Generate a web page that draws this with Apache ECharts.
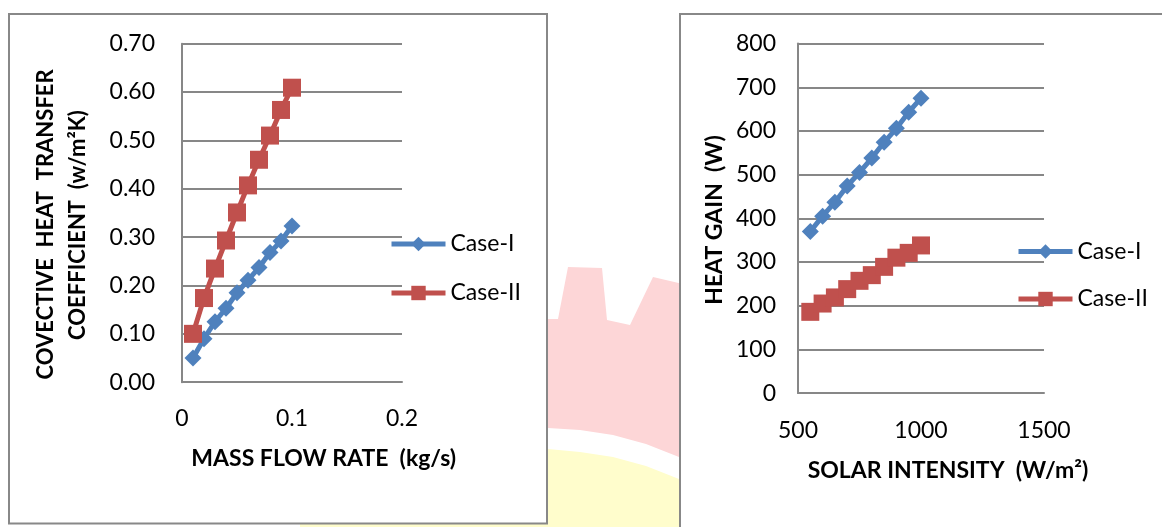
<!DOCTYPE html>
<html>
<head>
<meta charset="utf-8">
<script src="https://cdn.jsdelivr.net/npm/echarts@6/dist/echarts.min.js"></script>
<style>
html,body{margin:0;padding:0;background:#fff;}
#chart{width:1162px;height:527px;}
</style>
</head>
<body>
<div id="chart"></div>
<script>
// ---- data ----
const seriesNames = ['Case-I', 'Case-II'];
const massFlow = [0.01, 0.02, 0.03, 0.04, 0.05, 0.06, 0.07, 0.08, 0.09, 0.10];
const hCase1 = [0.050, 0.090, 0.125, 0.153, 0.185, 0.211, 0.237, 0.268, 0.292, 0.323];
const hCase2 = [0.100, 0.174, 0.235, 0.293, 0.351, 0.407, 0.460, 0.510, 0.563, 0.609];
const solar = [550, 600, 650, 700, 750, 800, 850, 900, 950, 1000];
const gain1 = [370, 405, 437, 474, 505, 538, 574, 606, 643, 675];
const gain2 = [186, 205, 219, 238, 257, 270, 289, 310, 321, 338];
const leftXTicks = ['0', '0.1', '0.2'];
const leftYTicks = ['0.00', '0.10', '0.20', '0.30', '0.40', '0.50', '0.60', '0.70'];
const rightXTicks = ['500', '1000', '1500'];
const rightYTicks = ['0', '100', '200', '300', '400', '500', '600', '700', '800'];
const leftXTitle = 'MASS FLOW RATE  (kg/s)';
const leftYTitle1 = 'COVECTIVE  HEAT  TRANSFER';
const leftYTitle2 = 'COEFFICIENT  (w/m²K)';
const rightXTitle = 'SOLAR INTENSITY  (W/m²)';
const rightYTitle = 'HEAT GAIN  (W)';

const BLUE = '#4F81BD', RED = '#C0504D', GRIDC = '#878787';
const FONT = 'Lato, "Open Sans", sans-serif';

function pairs(xs, ys) { return xs.map((x, i) => [x, ys[i]]); }

const chart = echarts.init(document.getElementById('chart'), null, {renderer: 'canvas'});

const axisLbl = (arr, margin) => ({
  color: '#000', fontFamily: FONT, fontSize: 23, margin: margin,
  formatter: (v, i) => arr[i]
});

function xAx(gi, min, max, interval, ticks, margin) {
  return {
    type: 'value', gridIndex: gi, min, max, interval,
    axisLine: {show: true, onZero: false, lineStyle: {color: GRIDC, width: 2}},
    axisTick: {show: false}, splitLine: {show: false},
    axisLabel: axisLbl(ticks, margin)
  };
}
function yAx(gi, min, max, interval, ticks, margin) {
  return {
    type: 'value', gridIndex: gi, min, max, interval,
    axisLine: {show: true, lineStyle: {color: GRIDC, width: 2}},
    axisTick: {show: false},
    splitLine: {show: true, lineStyle: {color: GRIDC, width: 2}},
    axisLabel: axisLbl(ticks, margin)
  };
}

function lineSeries(name, gi, data, color, symbol, size) {
  return {
    name, type: 'line', xAxisIndex: gi, yAxisIndex: gi, data,
    symbol, symbolSize: size, showSymbol: true, animation: false,
    lineStyle: {color, width: 5},
    itemStyle: {color}
  };
}

function titleText(text, x, y, rot, size) {
  return {
    type: 'text', x, y, rotation: rot || 0, z: 50,
    style: {text, fill: '#000', font: 'bold ' + (size || 23) + 'px ' + FONT, align: 'center', verticalAlign: 'middle'}
  };
}

const legendBase = {
  data: seriesNames, orient: 'vertical', padding: 0,
  itemWidth: 54, itemHeight: 18,
  lineStyle: {width: 5},
  textStyle: {color: '#000', fontFamily: FONT, fontSize: 23, lineHeight: 26}
};

const option = {
  animation: false,
  backgroundColor: '#fff',
  grid: [
    {left: 182, top: 43.7, width: 220, height: 338.5, containLabel: false},
    {left: 798, top: 43.6, width: 246, height: 349.5, containLabel: false}
  ],
  xAxis: [
    xAx(0, 0, 0.2, 0.1, leftXTicks, 25),
    xAx(1, 500, 1500, 500, rightXTicks, 26)
  ],
  yAxis: [
    yAx(0, 0, 0.7, 0.1, leftYTicks, 27),
    yAx(1, 0, 800, 100, rightYTicks, 22)
  ],
  legend: [
    Object.assign({}, legendBase, {left: 389, top: 231, itemGap: 23}),
    Object.assign({}, legendBase, {left: 1016, top: 238.5, itemGap: 21.5})
  ],
  series: [
    lineSeries(seriesNames[0], 0, pairs(massFlow, hCase1), BLUE, 'diamond', 17),
    lineSeries(seriesNames[1], 0, pairs(massFlow, hCase2), RED, 'rect', 18),
    lineSeries(seriesNames[0], 1, pairs(solar, gain1), BLUE, 'diamond', 17),
    lineSeries(seriesNames[1], 1, pairs(solar, gain2), RED, 'rect', 18)
  ],
  graphic: [
    // background watermark (decoration)
    {
      type: 'polygon', z: -100, silent: true,
      shape: {points: [[530, 319], [558, 319], [568, 267], [602, 268], [607, 320], [630, 325],
        [653, 277], [700, 288], [700, 462], [679, 457], [646, 444], [613, 435], [580, 430], [548, 428], [530, 428]]},
      style: {fill: '#FDD6D7'}
    },
    {
      type: 'polygon', z: -100, silent: true,
      shape: {points: [[300, 449], [548, 449], [580, 452], [613, 457], [646, 466], [679, 479], [700, 486],
        [700, 527], [300, 527]]},
      style: {fill: '#FFFDCC'}
    },
    // chart boxes
    {
      type: 'rect', z: -50, silent: true,
      shape: {x: 9, y: 14, width: 538, height: 509.5},
      style: {fill: '#fff', stroke: '#888', lineWidth: 2}
    },
    {
      type: 'rect', z: -50, silent: true,
      shape: {x: 680, y: 14, width: 520, height: 540},
      style: {fill: '#fff', stroke: '#888', lineWidth: 2}
    },
    titleText(leftXTitle, 323.7, 459),
    titleText(leftYTitle1, 46, 224.4, Math.PI / 2, 22),
    titleText(leftYTitle2, 78, 225, Math.PI / 2, 22),
    titleText(rightXTitle, 948, 470.6),
    titleText(rightYTitle, 714.4, 220, Math.PI / 2)
  ]
};
chart.setOption(option);
</script>
</body>
</html>
